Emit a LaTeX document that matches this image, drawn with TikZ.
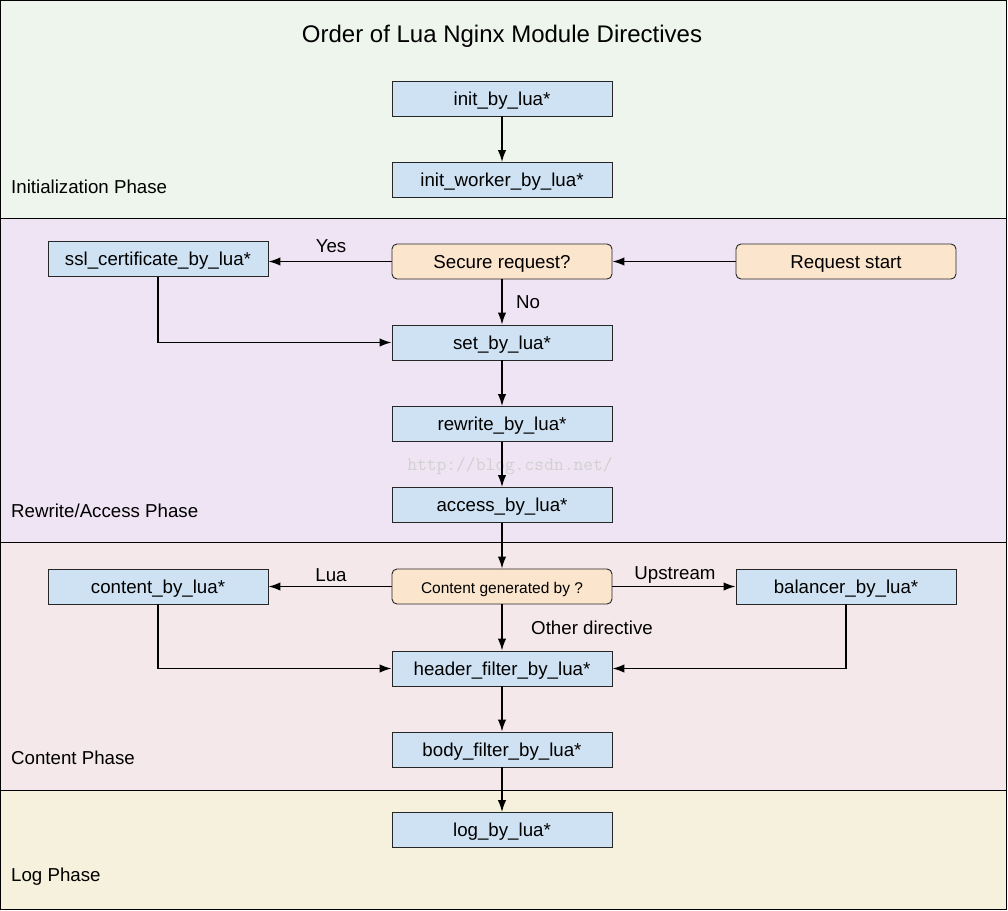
\documentclass[tikz,border=0pt]{standalone}
\usepackage{fontspec}
\setmainfont{Liberation Sans}
\usetikzlibrary{arrows.meta}
\definecolor{bandA}{HTML}{EEF5EC}
\definecolor{bandB}{HTML}{EFE4F3}
\definecolor{bandC}{HTML}{F4E8EA}
\definecolor{bandD}{HTML}{F5F1DC}
\definecolor{boxblue}{HTML}{CFE2F3}
\definecolor{boxorange}{HTML}{FCE5CD}
\begin{document}
\begin{tikzpicture}[x=1pt,y=-1pt,
  dirbox/.style={draw=black!85,line width=0.9pt,fill=boxblue,minimum width=220pt,minimum height=35pt,inner sep=0pt,text height=17pt,text depth=4pt,font=\fontsize{18.7}{22}\selectfont},
  decbox/.style={dirbox,fill=boxorange,rounded corners=5pt},
  flow/.style={line width=1.5pt,-{Latex[length=12pt,width=8.5pt]}},
  lbl/.style={font=\fontsize{18.7}{22}\selectfont,inner sep=0pt},
  phase/.style={font=\fontsize{18.7}{22}\selectfont,anchor=west,inner sep=0pt}]
\useasboundingbox (0,0) rectangle (1008,910);
% bands
\fill[bandA] (0,0) rectangle (1007,218);
\fill[bandB] (0,218) rectangle (1007,542);
\fill[bandC] (0,542) rectangle (1007,790);
\fill[bandD] (0,790) rectangle (1007,910);
\draw[line width=1pt] (0.5,0.5) rectangle (1006.5,909.5);
\draw[line width=1pt] (0,218) -- (1007,218);
\draw[line width=1pt] (0,542) -- (1007,542);
\draw[line width=1pt] (0,790) -- (1007,790);
% title and phases
\node[font=\fontsize{24}{28}\selectfont] (title) at (502,36) {Order of Lua Nginx Module Directives};
\node[phase] (p1) at (11,187) {Initialization Phase};
\node[phase] (p2) at (11,511) {Rewrite/Access Phase};
\node[phase] (p3) at (11,758) {Content Phase};
\node[phase] (p4) at (11,877) {Log Phase};
% watermark
\node[font=\ttfamily\fontsize{19}{22}\selectfont,text=black!18] (wm) at (510,466) {http://blog.csdn.net/};
% nodes
\node[dirbox] (init) at (502,98.5) {init\_by\_lua*};
\node[dirbox] (initw) at (502,180) {init\_worker\_by\_lua*};
\node[dirbox] (ssl) at (158,259) {ssl\_certificate\_by\_lua*};
\node[decbox] (secure) at (502,261.5) {Secure request?};
\node[decbox] (start) at (846,261.5) {Request start};
\node[dirbox] (set) at (502,342.5) {set\_by\_lua*};
\node[dirbox] (rewrite) at (502,424) {rewrite\_by\_lua*};
\node[dirbox] (access) at (502,505) {access\_by\_lua*};
\node[dirbox] (content) at (158,586.5) {content\_by\_lua*};
\node[decbox,font=\fontsize{15.5}{18}\selectfont] (gen) at (502,586.5) {Content generated by ?};
\node[dirbox] (bal) at (846,586.5) {balancer\_by\_lua*};
\node[dirbox] (header) at (502,668.5) {header\_filter\_by\_lua*};
\node[dirbox] (body) at (502,749.5) {body\_filter\_by\_lua*};
\node[dirbox] (log) at (502,830) {log\_by\_lua*};
% edges
\draw[flow] (init) -- (initw);
\draw[flow] (start) -- (secure);
\draw[flow] (secure.west) -- (ssl.east |- secure.west);
\node[lbl] (yes) at (331,246) {Yes};
\draw[flow] (secure) -- (set);
\node[lbl] (no) at (528,302) {No};
\draw[flow] (ssl.south) |- (set.west);
\draw[flow] (set) -- (rewrite);
\draw[flow] (rewrite) -- (access);
\draw[flow] (access) -- (gen);
\draw[flow] (gen) -- (content);
\node[lbl] (lua) at (331,575) {Lua};
\draw[flow] (gen) -- (bal);
\node[lbl] (up) at (675,575) {Upstream};
\draw[flow] (gen) -- (header);
\node[lbl] (other) at (592,628) {Other directive};
\draw[flow] (content.south) |- (header.west);
\draw[flow] (bal.south) |- (header.east);
\draw[flow] (header) -- (body);
\draw[flow] (body) -- (log);
\end{tikzpicture}
\end{document}
